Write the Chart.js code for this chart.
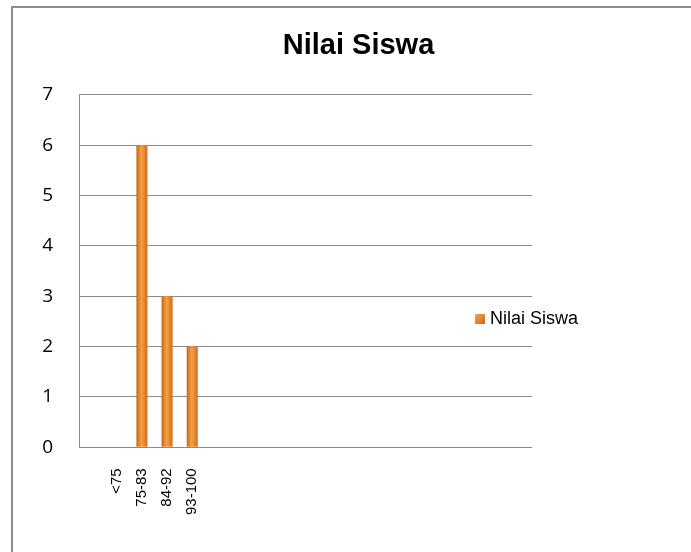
<!DOCTYPE html>
<html>
<head>
<meta charset="utf-8">
<script src="https://cdn.jsdelivr.net/npm/chart.js@4"></script>
<style>
    body { margin: 0; background: #fff; overflow: hidden; width: 691px; height: 552px; }
    #frame { position: absolute; left: 11px; top: 6px; width: 720px; height: 580px;
             border-left: 2px solid #8e8e8e; border-top: 2px solid #8e8e8e; }
    #chart { position: absolute; left: 0; top: 0; }
</style>
</head>
<body>
<div id="frame"><canvas id="chart" width="691" height="546"></canvas></div>
<script>
// categories: the Excel sheet had blank rows around the four ranges
const categories = ["", "<75", "75-83", "84-92", "93-100", "", "", "", "", "", "", "", "", "", "", "", "", ""];
const nilaiSiswa = [null, 0, 6, 3, 2, null, null, null, null, null, null, null, null, null, null, null, null, null];
const seriesName = "Nilai Siswa";
const yTicks = [0, 1, 2, 3, 4, 5, 6, 7];

function barGradient(c) {
    const el = c.element;
    if (!el || el.x === undefined || !el.width) return '#E8822A';
    const g = c.chart.ctx.createLinearGradient(el.x - el.width / 2, 0, el.x + el.width / 2, 0);
    g.addColorStop(0, '#C8651C');
    g.addColorStop(0.45, '#F7A040');
    g.addColorStop(1, '#D06C1E');
    return g;
}

// legend sits inside the plot like in the original sheet
const legendPlugin = {
    id: 'sheetLegend',
    afterDraw(chart) {
        const ctx = chart.ctx;
        const x = 462, y = 306;
        const g = ctx.createLinearGradient(x, y, x + 10, y + 10);
        g.addColorStop(0, '#F7A848');
        g.addColorStop(1, '#C8651C');
        ctx.save();
        ctx.fillStyle = g;
        ctx.fillRect(x, y, 10, 10);
        ctx.fillStyle = '#000';
        ctx.font = '18px "Liberation Sans", Arial, sans-serif';
        ctx.textBaseline = 'middle';
        ctx.fillText(seriesName, x + 15, y + 5);
        ctx.restore();
    }
};

const chart = new Chart(document.getElementById("chart").getContext("2d"), {
    type: 'bar',
    data: {
        labels: categories,
        datasets: [{
            label: seriesName,
            data: nilaiSiswa,
            backgroundColor: barGradient,
            categoryPercentage: 1,
            barPercentage: 0.44
        }]
    },
    options: {
        responsive: false,
        animation: false,
        layout: { padding: { left: 0, right: 0, bottom: 18 } },
        plugins: {
            legend: { display: false },
            tooltip: { enabled: false },
            title: {
                display: true,
                text: seriesName,
                color: '#000',
                font: { family: '"Liberation Sans", Arial, sans-serif', size: 29, weight: 'bold' },
                padding: { top: 21, bottom: 31 }
            }
        },
        scales: {
            x: {
                grid: { display: false, drawTicks: false },
                border: { display: false },
                ticks: {
                    color: '#000',
                    autoSkip: false,
                    maxRotation: 90,
                    minRotation: 90,
                    padding: 21,
                    font: { family: '"Liberation Sans", Arial, sans-serif', size: 15 }
                }
            },
            y: {
                min: 0,
                max: yTicks[yTicks.length - 1],
                afterBuildTicks(scale) { scale.ticks = yTicks.map(v => ({ value: v })); },
                afterFit(scale) { scale.width = 66; },
                grid: { color: '#8a8a8a', lineWidth: 1, drawTicks: false },
                border: { display: true, color: '#8a8a8a', width: 1 },
                ticks: {
                    color: '#000',
                    padding: 26,
                    font: { family: '"Open Sans", sans-serif', size: 19 }
                }
            },
            // empty space on the right where the sheet left room for the legend
            spacer: {
                type: 'linear',
                position: 'right',
                display: true,
                afterFit(scale) { scale.width = 172; },
                grid: { display: false, drawTicks: false },
                border: { display: false },
                ticks: { display: false }
            }
        }
    },
    plugins: [legendPlugin]
});
chart.update();
</script>
</body>
</html>
